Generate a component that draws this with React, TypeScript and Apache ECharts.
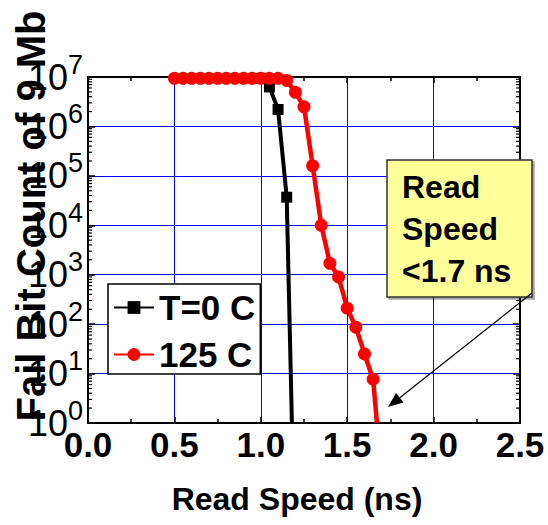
import React, { useEffect, useRef } from "react";
import * as echarts from "echarts";

// ---- Data ----
const speedT0 = [1.0, 1.05, 1.1, 1.15, 1.18];
const failT0 = [9.4e6, 6.3e6, 2.2e6, 3.7e4, 1];

const speed125 = [
  0.5, 0.55, 0.6, 0.65, 0.7, 0.75, 0.8, 0.85, 0.9, 0.95, 1.0, 1.05, 1.1, 1.15,
  1.2, 1.25, 1.3, 1.35, 1.4, 1.45, 1.5, 1.55, 1.6, 1.65, 1.672,
];
const fail125 = [
  9.4e6, 9.4e6, 9.4e6, 9.4e6, 9.4e6, 9.4e6, 9.4e6, 9.4e6, 9.4e6, 9.4e6, 9.4e6,
  9.4e6, 9.4e6, 8.5e6, 4.9e6, 2.5e6, 1.6e5, 1.0e4, 1.7e3, 900, 210, 87, 25, 7.7, 1,
];

const seriesNames = ["T=0 C", "125 C"];
const xTitle = "Read Speed (ns)";
const yTitle = "Fail Bit Count of 9 Mb";
const noteLines = ["Read", "Speed", "<1.7 ns"];

// log-axis minor tick positions (2..9 within each decade)
const decades = [1, 10, 100, 1e3, 1e4, 1e5, 1e6];
const minorMultipliers = [2, 3, 4, 5, 6, 7, 8, 9];

const FONT = "'Liberation Sans', Arial, Helvetica, sans-serif";

export default function App() {
  const ref = useRef<HTMLDivElement>(null);

  useEffect(() => {
    if (!ref.current) return;
    const chart = echarts.init(ref.current, undefined, { renderer: "svg" });

    const lastIdx125 = speed125.length - 1;
    const lastIdxT0 = speedT0.length - 1;
    const data125 = speed125.map((x, i) =>
      i === lastIdx125 ? { value: [x, fail125[i]], symbol: "none" } : { value: [x, fail125[i]] }
    );
    const dataT0 = speedT0.map((x, i) =>
      i === lastIdxT0 ? { value: [x, failT0[i]], symbol: "none" } : { value: [x, failT0[i]] }
    );
    const minorTicks: number[][] = [];
    decades.forEach((d) => minorMultipliers.forEach((m) => minorTicks.push([0, d * m])));

    const axisLine = { show: true, onZero: false, lineStyle: { color: "#000", width: 2 } };

    // arrow geometry
    const ax1 = 532, ay1 = 293, ax2 = 388, ay2 = 407;
    const len = Math.hypot(ax2 - ax1, ay2 - ay1);
    const ux = (ax2 - ax1) / len, uy = (ay2 - ay1) / len;
    const headL = 15, headW = 6;
    const bx = ax2 - ux * headL, by = ay2 - uy * headL;

    const option: any = {
      animation: false,
      backgroundColor: "#fff",
      grid: { left: 88, top: 77, right: 28, bottom: 102, containLabel: false },
      legend: {
        data: seriesNames,
        orient: "vertical",
        left: 108,
        top: 284,
        itemWidth: 40,
        itemHeight: 16,
        itemGap: 12,
        padding: [6, 5, 2, 5],
        backgroundColor: "#fff",
        borderColor: "#000",
        borderWidth: 1.5,
        formatter: (name: string) => `{t|${name}}`,
        textStyle: {
          color: "#000",
          rich: {
            t: {
              fontFamily: FONT,
              fontWeight: "bold",
              fontSize: 35,
              color: "#000",
            },
          },
        },
      },
      xAxis: [
        {
          type: "value",
          min: 0,
          max: 2.5,
          interval: 0.5,
          position: "bottom",
          axisLine,
          axisTick: { show: true, inside: true, length: 6, lineStyle: { color: "#000", width: 1.5 } },
          minorTick: { show: true, splitNumber: 2, length: 4, lineStyle: { color: "#000", width: 1.5 } },
          splitLine: { show: true, lineStyle: { color: "#0000ff", width: 1 } },
          axisLabel: {
            margin: 4,
            formatter: (v: number) => `{x|${v.toFixed(1)}}`,
            rich: {
              x: { fontFamily: FONT, fontWeight: "bold", fontSize: 35, color: "#000" },
            },
          },
        },
        {
          type: "value",
          min: 0,
          max: 2.5,
          interval: 0.5,
          position: "top",
          axisLine,
          axisTick: { show: true, inside: true, length: 6, lineStyle: { color: "#000", width: 1.5 } },
          minorTick: { show: true, splitNumber: 2, length: 4, lineStyle: { color: "#000", width: 1.5 } },
          splitLine: { show: false },
          axisLabel: { show: false },
        },
      ],
      yAxis: [
        {
          type: "log",
          logBase: 10,
          min: 1,
          max: 1e7,
          splitNumber: 7,
          position: "left",
          axisLine,
          axisTick: { show: true, inside: true, length: 7, lineStyle: { color: "#000", width: 1.5 } },
          splitLine: { show: true, lineStyle: { color: "#0000ff", width: 1 } },
          axisLabel: {
            margin: 5,
            formatter: (v: number) => `{b|10}{s|${Math.round(Math.log10(v))}}`,
            rich: {
              b: { fontFamily: FONT, fontSize: 36, color: "#000", lineHeight: 52 },
              s: { fontFamily: FONT, fontSize: 27, color: "#000", lineHeight: 27, verticalAlign: "top" },
            },
          },
        },
        {
          type: "log",
          logBase: 10,
          min: 1,
          max: 1e7,
          splitNumber: 7,
          position: "right",
          axisLine,
          axisTick: { show: true, inside: true, length: 7, lineStyle: { color: "#000", width: 1.5 } },
          splitLine: { show: false },
          axisLabel: { show: false },
        },
      ],
      series: [
        {
          type: "custom",
          name: "minorTicks",
          xAxisIndex: 0,
          yAxisIndex: 0,
          silent: true,
          clip: false,
          z: 1,
          data: minorTicks,
          renderItem: (_p: any, api: any) => {
            const v = api.value(1);
            const pl = api.coord([0, v]);
            const pr = api.coord([2.5, v]);
            return {
              type: "group",
              children: [
                { type: "line", shape: { x1: pl[0], y1: pl[1], x2: pl[0] + 4, y2: pl[1] }, style: { stroke: "#000", lineWidth: 1.2 } },
                { type: "line", shape: { x1: pr[0] - 4, y1: pr[1], x2: pr[0], y2: pr[1] }, style: { stroke: "#000", lineWidth: 1.2 } },
              ],
            };
          },
        },
        {
          type: "line",
          name: seriesNames[0],
          xAxisIndex: 0,
          yAxisIndex: 0,
          data: dataT0,
          symbol: "rect",
          symbolSize: 11,
          z: 3,
          lineStyle: { color: "#000", width: 4 },
          itemStyle: { color: "#000" },
        },
        {
          type: "line",
          name: seriesNames[1],
          xAxisIndex: 0,
          yAxisIndex: 0,
          data: data125,
          symbol: "circle",
          symbolSize: 13,
          z: 4,
          lineStyle: { color: "#ff0000", width: 4.5 },
          itemStyle: { color: "#ff0000" },
        },
      ],
      graphic: [
        {
          type: "text",
          z: 100,
          x: 31,
          y: 216,
          rotation: Math.PI / 2,
          style: {
            text: yTitle,
            font: `bold 40px ${FONT}`,
            fill: "#000",
            align: "center",
            verticalAlign: "middle",
          },
        },
        {
          type: "text",
          z: 100,
          x: 297,
          y: 499,
          style: {
            text: xTitle,
            font: `bold 32px ${FONT}`,
            fill: "#000",
            align: "center",
            verticalAlign: "middle",
          },
        },
        {
          type: "rect",
          z: 100,
          shape: { x: 387, y: 160, width: 145, height: 137 },
          style: { fill: "#ffff99", stroke: "#333", lineWidth: 1.5, shadowColor: "rgba(0,0,0,0.35)", shadowOffsetX: 2, shadowOffsetY: 2, shadowBlur: 1 },
        },
        {
          type: "text",
          z: 101,
          x: 402,
          y: 166,
          style: {
            text: noteLines.join("\n"),
            font: `bold 32px ${FONT}`,
            lineHeight: 42,
            fill: "#000",
            align: "left",
            verticalAlign: "top",
          },
        },
        {
          type: "line",
          z: 101,
          shape: { x1: ax1, y1: ay1, x2: bx, y2: by },
          style: { stroke: "#000", lineWidth: 1.2 },
        },
        {
          type: "polygon",
          z: 101,
          shape: {
            points: [
              [ax2, ay2],
              [bx + (-uy) * headW, by + ux * headW],
              [bx - (-uy) * headW, by - ux * headW],
            ],
          },
          style: { fill: "#000" },
        },
      ],
    };

    chart.setOption(option);
    return () => chart.dispose();
  }, []);

  return (
    <div
      ref={ref}
      style={{ position: "fixed", left: 0, top: 0, width: 548, height: 525, background: "#fff" }}
    />
  );
}
